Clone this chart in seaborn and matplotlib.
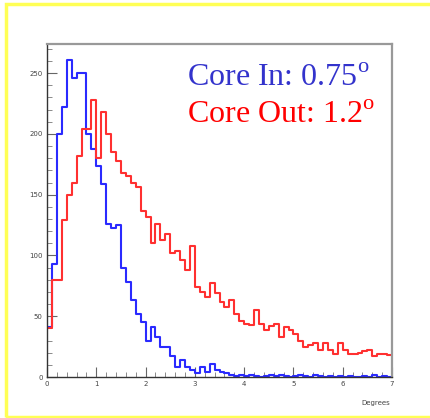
import numpy as np
import pandas as pd
import matplotlib
matplotlib.use("Agg")
import matplotlib.pyplot as plt
import seaborn as sns
from matplotlib.patches import Rectangle
from matplotlib.ticker import MultipleLocator

# ---- data (counts per 0.1 degree bin, 0 .. 7 degrees) ----
core_in_counts = [41, 93, 200, 222, 261, 246, 250, 250, 200, 188,
                  174, 159, 126, 123, 125, 90, 78, 63, 52, 45,
                  30, 41, 33, 25, 25, 17, 8, 14, 8, 6,
                  3, 8, 4, 11, 6, 4, 3, 2, 1, 2,
                  1, 2, 1, 0, 1, 2, 1, 2, 1, 0,
                  1, 2, 1, 0, 2, 1, 0, 1, 0, 1,
                  0, 1, 0, 0, 1, 0, 2, 0, 1, 0]
core_out_counts = [40, 80, 80, 129, 150, 160, 182, 204, 204, 228,
                   180, 218, 200, 185, 178, 168, 165, 160, 156, 137,
                   132, 110, 126, 113, 118, 102, 104, 96, 88, 108,
                   74, 70, 66, 77, 69, 62, 58, 63, 52, 46,
                   44, 43, 55, 44, 39, 42, 44, 33, 41, 39,
                   35, 30, 25, 26, 28, 22, 28, 22, 19, 28,
                   22, 19, 19, 20, 21, 22, 17, 19, 19, 18]
x_range = (0, 7)
x_ticks = [0, 1, 2, 3, 4, 5, 6, 7]
y_ticks = [0, 50, 100, 150, 200, 250]
label_in = r"Core In: 0.75$^\mathrm{o}$"
label_out = r"Core Out: 1.2$^\mathrm{o}$"

n_bins = len(core_in_counts)
centers = x_range[0] + (np.arange(n_bins) + 0.5) * (x_range[1] - x_range[0]) / n_bins
df = pd.DataFrame({
    "deg": np.concatenate([centers, centers]),
    "count": np.array(core_in_counts + core_out_counts, dtype=float),
    "core": ["in"] * n_bins + ["out"] * n_bins,
})

plt.rcParams["mathtext.fontset"] = "custom"
plt.rcParams["mathtext.rm"] = "Liberation Serif"

W, H = 431, 418
fig = plt.figure(figsize=(W / 100, H / 100), dpi=100)
fig.patch.set_facecolor("white")

# slide frame
fig.add_artist(Rectangle((6 / W, 1 / H), 1.2, (H - 5) / H, transform=fig.transFigure,
                         fill=False, edgecolor="#ffff55", lw=2.5))

ax = fig.add_axes([47 / W, 1 - 377 / H, (392 - 47) / W, (377 - 44) / H])
sns.histplot(data=df[df.core == "in"], x="deg", weights="count", bins=n_bins,
             binrange=x_range, element="step", fill=False, color="#2a2aff",
             linewidth=1.5, ax=ax)
sns.histplot(data=df[df.core == "out"], x="deg", weights="count", bins=n_bins,
             binrange=x_range, element="step", fill=False, color="#ff3030",
             linewidth=1.5, ax=ax)

ax.set_xlim(*x_range)
ax.set_ylim(0, 274)
ax.set_xticks(x_ticks)
ax.set_yticks(y_ticks)
ax.xaxis.set_minor_locator(MultipleLocator(0.2))
ax.yaxis.set_minor_locator(MultipleLocator(10))
ax.tick_params(which="major", direction="in", length=7, width=0.8, color="#666666",
               labelsize=5, labelcolor="#444444", pad=3)
ax.tick_params(which="minor", direction="in", length=3.5, width=0.6, color="#777777")
ax.tick_params(axis="x", which="both", top=False)
ax.tick_params(axis="y", which="both", right=False)
ax.set_xlabel("")
ax.set_ylabel("")
for s in ["top", "right"]:
    ax.spines[s].set_color("#999999")
    ax.spines[s].set_linewidth(1.6)
for s in ["left", "bottom"]:
    ax.spines[s].set_color("#333333")
    ax.spines[s].set_linewidth(1.0)

fig.text(390 / W, 1 - 405 / H, "Degrees", ha="right", va="baseline",
         fontsize=5, color="#444444")

fig.text(187 / W, 1 - 86 / H, label_in, fontsize=23, color="#3333cc",
         family="Liberation Serif", va="baseline", ha="left")
fig.text(187 / W, 1 - 123 / H, label_out, fontsize=23, color="#ff0000",
         family="Liberation Serif", va="baseline", ha="left")

fig.savefig("out.png", dpi=100)
